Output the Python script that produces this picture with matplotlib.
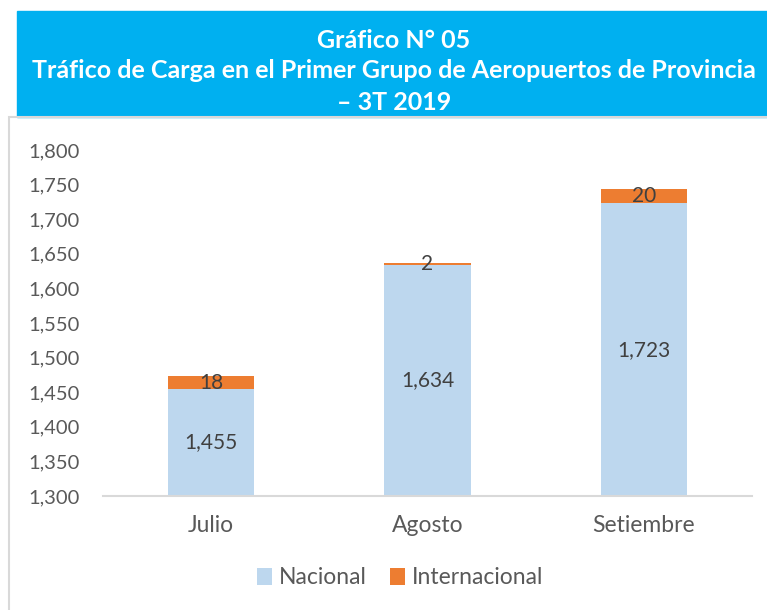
import numpy as np
import matplotlib.pyplot as plt
from matplotlib.patches import Rectangle
from matplotlib.ticker import FuncFormatter

plt.rcParams["font.family"] = ["Lato", "DejaVu Sans"]

meses = ["Julio", "Agosto", "Setiembre"]
nacional = [1455, 1634, 1723]
internacional = [18, 2, 20]
y_min, y_max = 1300, 1800

c_nac = "#BDD7EE"
c_int = "#ED7D31"
c_txt = "#595959"

fig = plt.figure(figsize=(7.67, 6.10), dpi=100)

# title box and chart border
fig.patches.append(Rectangle((17 / 767, 1 - 117 / 610), 750 / 767, 106 / 610,
                             transform=fig.transFigure, color="#00B0F0", zorder=0))
fig.patches.append(Rectangle((9 / 767, -0.01), 1.0, 1 - 117 / 610 + 0.01,
                             transform=fig.transFigure, facecolor="none",
                             edgecolor="#D9D9D9", linewidth=1.5, zorder=0))

titulo = ["Gráfico N° 05",
          "Tráfico de Carga en el Primer Grupo de Aeropuertos de Provincia",
          "– 3T 2019"]
for i, linea in enumerate(titulo):
    fig.text(394 / 767, 1 - (40 + i * 31) / 610, linea, ha="center", va="center",
             color="white", fontsize=18, fontweight="bold")

ax = fig.add_axes([103 / 767, 1 - 496 / 610, 649 / 767, 346 / 610])
x = np.arange(len(meses))
w = 0.4
ax.bar(x, np.array(nacional) - y_min, width=w, bottom=y_min, color=c_nac, label="Nacional")
ax.bar(x, internacional, width=w, bottom=nacional, color=c_int, label="Internacional")

for xi, n, it in zip(x, nacional, internacional):
    ax.text(xi, (y_min + n) / 2, f"{n:,}", ha="center", va="center",
            fontsize=15, color="#404040")
    ax.text(xi, n + it / 2, f"{it}", ha="center", va="center",
            fontsize=15, color="#404040")

ax.set_xlim(-0.5, len(meses) - 0.5)
ax.set_ylim(y_min, y_max)
ax.set_yticks(np.arange(y_min, y_max + 1, 50))
ax.yaxis.set_major_formatter(FuncFormatter(lambda v, p: f"{int(v):,}"))
ax.set_xticks(x)
ax.set_xticklabels(meses)
ax.tick_params(axis="y", length=0, labelsize=14.5, colors=c_txt, pad=17)
ax.tick_params(axis="x", length=0, labelsize=16.5, colors=c_txt, pad=14)
for s in ["top", "right", "left"]:
    ax.spines[s].set_visible(False)
ax.spines["bottom"].set_color("#D9D9D9")
ax.spines["bottom"].set_linewidth(1.5)

fig.legend(loc="center", bbox_to_anchor=(400 / 767, 1 - 578 / 610), ncol=2,
           frameon=False, fontsize=16.5, handlelength=0.65, handleheight=0.75,
           handletextpad=0.3, columnspacing=1.0, labelcolor=c_txt)

fig.savefig("out.png", dpi=100)
